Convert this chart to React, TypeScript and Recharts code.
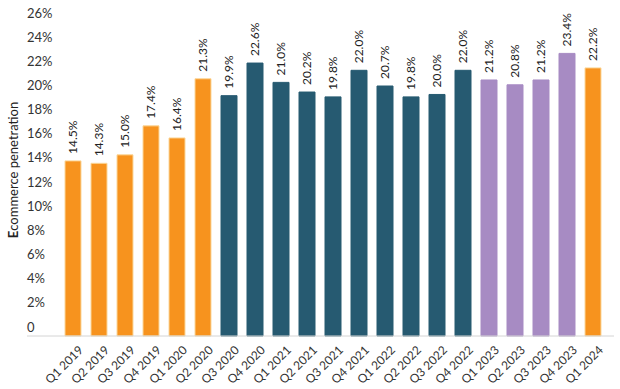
import { BarChart, Bar, XAxis, YAxis, Cell, LabelList } from 'recharts'

const quarters = [
  'Q1 2019', 'Q2 2019', 'Q3 2019', 'Q4 2019', 'Q1 2020', 'Q2 2020',
  'Q3 2020', 'Q4 2020', 'Q1 2021', 'Q2 2021', 'Q3 2021', 'Q4 2021',
  'Q1 2022', 'Q2 2022', 'Q3 2022', 'Q4 2022',
  'Q1 2023', 'Q2 2023', 'Q3 2023', 'Q4 2023', 'Q1 2024',
]
const penetration = [
  14.5, 14.3, 15.0, 17.4, 16.4, 21.3,
  19.9, 22.6, 21.0, 20.2, 19.8, 22.0,
  20.7, 19.8, 20.0, 22.0,
  21.2, 20.8, 21.2, 23.4, 22.2,
]
// 색 그룹: 0 = 주황, 1 = 남색, 2 = 보라
const period = [
  0, 0, 0, 0, 0, 0,
  1, 1, 1, 1, 1, 1,
  1, 1, 1, 1,
  2, 2, 2, 2, 0,
]
const yTicks = [0, 2, 4, 6, 8, 10, 12, 14, 16, 18, 20, 22, 24, 26]

const COLORS = ['#F7931E', '#265A71', '#A78BC3']
const STROKES = ['#FBD79A', '#265A71', '#A78BC3']
const FONT = 'Lato, "Open Sans", sans-serif'

const data = quarters.map((q, i) => ({ quarter: q, value: penetration[i], group: period[i] }))

const YTick = (props: any) => {
  const { y, payload } = props
  const v = payload.value
  return (
    <text x={27} y={y - 9} dy="0.35em" textAnchor="start" fill="#333" fontSize={13} fontFamily={FONT}>
      {v === 0 ? '0' : `${v}%`}
    </text>
  )
}

const XTick = (props: any) => {
  const { x, payload } = props
  return (
    <g transform={`translate(${x + 5},${345})`}>
      <text transform="rotate(-45)" textAnchor="end" dy="0.7em" fill="#333" fontSize={12} fontFamily={FONT}>
        {payload.value}
      </text>
    </g>
  )
}

const ValueLabel = (props: any) => {
  const { x, y, width, value } = props
  const cx = x + width / 2
  return (
    <text
      transform={`translate(${cx},${y - 7}) rotate(-90)`}
      textAnchor="start"
      dy="0.35em"
      fill="#222"
      fontSize={12}
      fontFamily={FONT}
    >
      {`${Number(value).toFixed(1)}%`}
    </text>
  )
}

export default function App() {
  return (
    <div style={{ position: 'absolute', left: 0, top: 0, width: 620, height: 389, background: '#fff' }}>
      <BarChart
        width={620}
        height={389}
        data={data}
        margin={{ top: 22, right: 6, left: 0, bottom: 0 }}
        barSize={16}
      >
        <XAxis
          dataKey="quarter"
          interval={0}
          tick={<XTick />}
          tickLine={false}
          axisLine={{ stroke: '#D4D4D4' }}
          padding={{ left: 33, right: 8 }}
          height={53}
        />
        <YAxis
          domain={[0, 26]}
          ticks={yTicks}
          interval={0}
          width={27}
          axisLine={false}
          tickLine={false}
          tick={<YTick />}
          label={{
            content: () => (
              <text
                transform="translate(18,170) rotate(-90)"
                textAnchor="middle"
                fill="#222"
                fontSize={13}
                fontFamily={FONT}
              >
                <tspan fontWeight={700}>E</tspan>commerce penetration
              </text>
            ),
          }}
        />
        <Bar dataKey="value" isAnimationActive={false}>
          {data.map((d, i) => (
            <Cell key={i} fill={COLORS[d.group]} stroke={STROKES[d.group]} strokeWidth={1} />
          ))}
          <LabelList dataKey="value" content={<ValueLabel />} />
        </Bar>
      </BarChart>
    </div>
  )
}
